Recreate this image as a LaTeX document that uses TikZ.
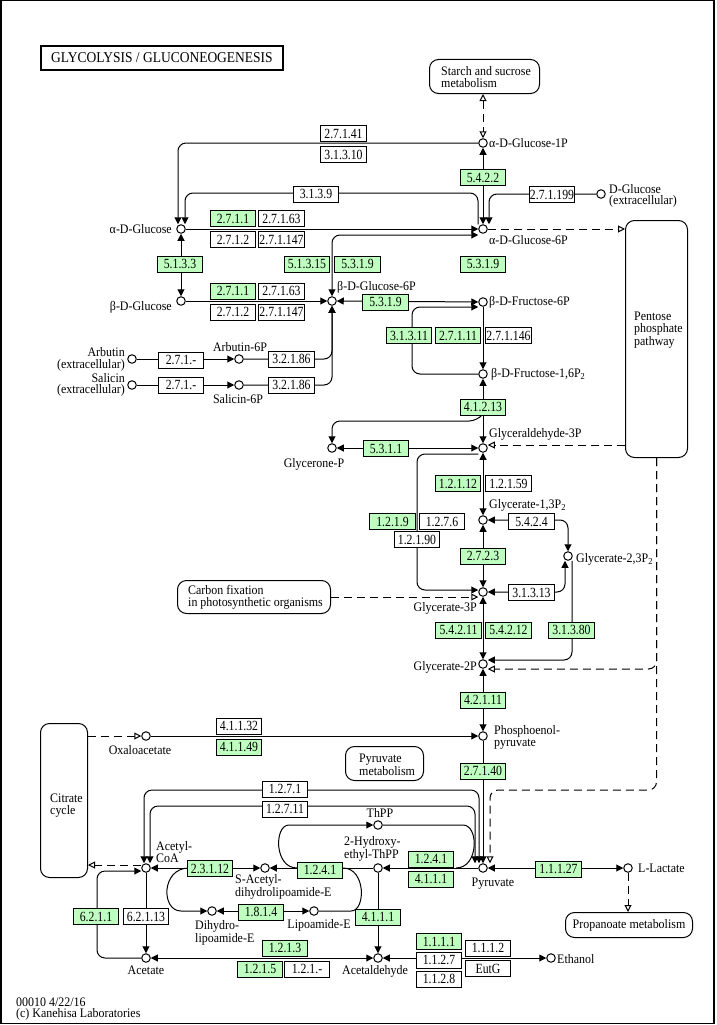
\documentclass[tikz,border=0pt]{standalone}
\usepackage{fontspec}
\setmainfont{Liberation Serif}
\newfontfamily\kfont[FakeStretch=0.92]{Liberation Serif}
\newfontfamily\efont[FakeStretch=0.84]{Liberation Serif}
\newfontfamily\tfont[FakeStretch=0.9]{Liberation Serif}
\usetikzlibrary{arrows.meta,backgrounds,calc}
\definecolor{kgreen}{RGB}{191,255,191}
\tikzset{
  >={Triangle[length=7pt,width=7pt]},
  oa/.tip={Triangle[open,length=7pt,width=7pt]},
  cpd/.style={circle,draw,fill=white,minimum size=8.5pt,inner sep=0pt,line width=1pt},
  enz/.style={draw,fill=white,minimum width=45.5pt,minimum height=16pt,inner sep=0pt,line width=1pt,font=\efont\fontsize{14}{14}\selectfont},
  genz/.style={enz,fill=kgreen},
  lbl/.style={inner sep=0pt,font=\kfont\fontsize{13}{11.5}\selectfont,align=left},
  rlbl/.style={lbl,align=right},
  clbl/.style={lbl,align=center},
  mapbox/.style={draw,rounded corners=9pt,line width=1pt,fill=white,inner sep=0pt},
  conn/.style={line width=1pt,rounded corners=8pt},
  kdash/.style={conn,dash pattern=on 8pt off 5pt},
}
\begin{document}
\begin{tikzpicture}[x=1pt,y=-1pt]
\useasboundingbox (0,0) rectangle (716,1025);
\draw[line width=1.5pt] (0.75,0.75) rectangle (714,1023.5);
% title
\node[draw,line width=2pt,minimum width=242pt,minimum height=24pt,inner sep=0pt,font=\tfont\fontsize{15}{15}\selectfont] (title) at (162,58) {GLYCOLYSIS / GLUCONEOGENESIS};
% map boxes
\node[mapbox,minimum width=110pt,minimum height=34pt] (starch) at (484.5,76.5) {};
\node[lbl,anchor=west] (lstarch) at (441,77) {Starch and sucrose\\metabolism};
\node[mapbox,minimum width=62pt,minimum height=237pt] (ppp) at (656.5,339) {};
\node[lbl,anchor=west] (lppp) at (634,330) {Pentose\\phosphate\\pathway};
\node[mapbox,minimum width=153pt,minimum height=33pt] (cfix) at (254,597) {};
\node[lbl,anchor=west] (lcfix) at (188,597.5) {Carbon fixation\\in photosynthetic organisms};
\node[mapbox,minimum width=47pt,minimum height=154pt] (cit) at (64,800.5) {};
\node[lbl,anchor=west] (lcit) at (50,805.5) {Citrate\\cycle};
\node[mapbox,minimum width=78pt,minimum height=34pt] (pyrmet) at (384.5,763.5) {};
\node[lbl,anchor=west] (lpyrmet) at (359,764.5) {Pyruvate\\metabolism};
\node[mapbox,minimum width=127pt,minimum height=25pt] (prop) at (629,925) {};
\node[lbl] (lprop) at (629,925) {Propanoate metabolism};
% compounds
\node[cpd] (aglc) at (181,229) {};
\node[cpd] (bglc) at (181,301) {};
\node[cpd] (ag1p) at (483,143) {};
\node[cpd] (ag6p) at (483,229) {};
\node[cpd] (dglcex) at (601,194) {};
\node[cpd] (bg6p) at (332,301) {};
\node[cpd] (bf6p) at (483,302) {};
\node[cpd] (f16p) at (483,374) {};
\node[cpd] (gap) at (483,448) {};
\node[cpd] (dhap) at (332,448) {};
\node[cpd] (g13p) at (483,520) {};
\node[cpd] (g23p) at (568,556) {};
\node[cpd] (g3p) at (483,592) {};
\node[cpd] (g2p) at (483,664) {};
\node[cpd] (pep) at (483,736) {};
\node[cpd] (oaa) at (146,736) {};
\node[cpd] (pyr) at (483,868) {};
\node[cpd] (lac) at (628,868) {};
\node[cpd] (accoa) at (146,868) {};
\node[cpd] (acet) at (146,958) {};
\node[cpd] (acald) at (378,958) {};
\node[cpd] (etoh) at (551,958) {};
\node[cpd] (thpp) at (378,825) {};
\node[cpd] (hthpp) at (378,868) {};
\node[cpd] (sacdl) at (265,868) {};
\node[cpd] (dhl) at (212,911) {};
\node[cpd] (lip) at (314,911) {};
\node[cpd] (arb) at (132,359) {};
\node[cpd] (arb6p) at (239,359) {};
\node[cpd] (sal) at (132,385) {};
\node[cpd] (sal6p) at (239,385) {};
% compound labels
\node[lbl,anchor=east] (laglc) at (172,229) {α-D-Glucose};
\node[lbl,anchor=east] (lbglc) at (172,307) {β-D-Glucose};
\node[lbl,anchor=west] (lag1p) at (489,143) {α-D-Glucose-1P};
\node[lbl,anchor=west] (lag6p) at (489,240) {α-D-Glucose-6P};
\node[lbl,anchor=west] (ldglc) at (609,196) {D-Glucose\\(extracellular)};
\node[lbl,anchor=west] (lbg6p) at (337,287) {β-D-Glucose-6P};
\node[lbl,anchor=west] (lbf6p) at (489,302) {β-D-Fructose-6P};
\node[lbl,anchor=west] (lf16p) at (491,374) {β-D-Fructose-1,6P\textsubscript{2}};
\node[lbl,anchor=west] (lgap) at (489,434) {Glyceraldehyde-3P};
\node[clbl] (ldhap) at (314,464) {Glycerone-P};
\node[lbl,anchor=west] (lg13p) at (489,505) {Glycerate-1,3P\textsubscript{2}};
\node[lbl,anchor=west] (lg23p) at (576,559) {Glycerate-2,3P\textsubscript{2}};
\node[lbl,anchor=east] (lg3p) at (477,608) {Glycerate-3P};
\node[lbl,anchor=east] (lg2p) at (477,667) {Glycerate-2P};
\node[lbl,anchor=west] (lpep) at (494,737.5) {Phosphoenol-\\pyruvate};
\node[clbl] (loaa) at (140,750) {Oxaloacetate};
\node[clbl] (lpyr) at (493,884) {Pyruvate};
\node[lbl,anchor=west] (llac) at (638,868) {L-Lactate};
\node[lbl,anchor=west] (laccoa) at (156,852) {Acetyl-\\CoA};
\node[clbl] (lacet) at (146,970) {Acetate};
\node[clbl] (lacald) at (375,971) {Acetaldehyde};
\node[lbl,anchor=west] (letoh) at (557,959) {Ethanol};
\node[clbl] (lthpp) at (380,813) {ThPP};
\node[lbl,anchor=west] (lhthpp) at (344,849) {2-Hydroxy-\\ethyl-ThPP};
\node[lbl,anchor=west] (lsacdl) at (235,887) {S-Acetyl-\\dihydrolipoamide-E};
\node[lbl,anchor=west] (ldhl) at (195,933) {Dihydro-\\lipoamide-E};
\node[clbl] (llip) at (319,925) {Lipoamide-E};
\node[rlbl,anchor=east] (larb) at (125,359.5) {Arbutin\\(extracellular)};
\node[clbl] (larb6p) at (240,347) {Arbutin-6P};
\node[rlbl,anchor=east] (lsal) at (125,385) {Salicin\\(extracellular)};
\node[clbl] (lsal6p) at (238,399) {Salicin-6P};
% enzymes
\node[enz] (e01) at (343.5,133.5) {2.7.1.41};
\node[enz] (e02) at (343.5,154.5) {3.1.3.10};
\node[genz] (e03) at (483,177.5) {5.4.2.2};
\node[enz] (e04) at (316,194) {3.1.3.9};
\node[enz] (e05) at (552,194.5) {2.7.1.199};
\node[genz] (e06) at (233,218.5) {2.7.1.1};
\node[enz] (e07) at (281.5,218.5) {2.7.1.63};
\node[enz] (e08) at (233,239.5) {2.7.1.2};
\node[enz] (e09) at (281.5,239.5) {2.7.1.147};
\node[genz] (e10) at (180,264) {5.1.3.3};
\node[genz] (e11) at (307,264) {5.1.3.15};
\node[genz] (e12) at (357.5,264) {5.3.1.9};
\node[genz] (e13) at (483,264) {5.3.1.9};
\node[genz] (e14) at (233,291) {2.7.1.1};
\node[enz] (e15) at (281.5,291) {2.7.1.63};
\node[enz] (e16) at (233,312) {2.7.1.2};
\node[enz] (e17) at (281.5,312) {2.7.1.147};
\node[genz] (e18) at (385.5,302) {5.3.1.9};
\node[genz] (e19) at (409,335.5) {3.1.3.11};
\node[genz] (e20) at (458,335.5) {2.7.1.11};
\node[enz] (e21) at (508.5,335.5) {2.7.1.146};
\node[enz] (e22) at (181,360) {2.7.1.-};
\node[enz] (e23) at (291.5,359) {3.2.1.86};
\node[enz] (e24) at (181,385) {2.7.1.-};
\node[enz] (e25) at (291.5,385) {3.2.1.86};
\node[genz] (e26) at (483,407) {4.1.2.13};
\node[genz] (e27) at (386,448.5) {5.3.1.1};
\node[genz] (e28) at (458,483.5) {1.2.1.12};
\node[enz] (e29) at (508.5,483.5) {1.2.1.59};
\node[genz] (e30) at (392.5,521.5) {1.2.1.9};
\node[enz] (e31) at (442,521.5) {1.2.7.6};
\node[enz] (e32) at (417,539.5) {1.2.1.90};
\node[enz] (e33) at (531.5,521.5) {5.4.2.4};
\node[genz] (e34) at (483,556) {2.7.2.3};
\node[enz] (e35) at (531.5,592.5) {3.1.3.13};
\node[genz] (e36) at (458.5,630) {5.4.2.11};
\node[genz] (e37) at (508.5,630) {5.4.2.12};
\node[genz] (e38) at (571.5,630) {3.1.3.80};
\node[genz] (e39) at (483,700) {4.2.1.11};
\node[enz] (e40) at (239,726) {4.1.1.32};
\node[genz] (e41) at (239,747) {4.1.1.49};
\node[genz] (e42) at (483,771) {2.7.1.40};
\node[enz] (e43) at (285,789) {1.2.7.1};
\node[enz] (e44) at (285,809) {1.2.7.11};
\node[genz] (e45) at (431,859) {1.2.4.1};
\node[genz] (e46) at (431,879) {4.1.1.1};
\node[genz] (e47) at (320,870) {1.2.4.1};
\node[genz] (e48) at (210,868.5) {2.3.1.12};
\node[genz] (e49) at (558.5,869) {1.1.1.27};
\node[genz] (e50) at (261,912) {1.8.1.4};
\node[genz] (e51) at (96,916.5) {6.2.1.1};
\node[enz] (e52) at (146,916.5) {6.2.1.13};
\node[genz] (e53) at (378,917) {4.1.1.1};
\node[genz] (e54) at (285,948) {1.2.1.3};
\node[genz] (e55) at (260,969) {1.2.1.5};
\node[enz] (e56) at (307,969) {1.2.1.-};
\node[genz] (e57) at (439,941.5) {1.1.1.1};
\node[enz] (e58) at (488,948) {1.1.1.2};
\node[enz] (e59) at (439,960) {1.1.2.7};
\node[enz] (e60) at (488,968.5) {EutG};
\node[enz] (e61) at (439,979) {1.1.2.8};
% footer
\node[lbl,anchor=west] (foot) at (16,1009) {00010 4/22/16\\(c) Kanehisa Laboratories};
% connectors
\begin{scope}[on background layer]
\draw[conn,->] (ag1p) -- (178,143) -- ([xshift=-3pt]aglc.north);
\draw[conn,->] ([xshift=-5pt]ag6p.north) -- (478,193) -- (185,193) -- ([xshift=4pt]aglc.north);
\draw[conn,->] (aglc) -- (ag6p);
\draw[conn,<->] (ag1p) -- (ag6p);
\draw[conn,->] (dglcex) -- (489,194) -- ([xshift=6pt]ag6p.north);
\draw[kdash,-{oa}] (ag6p) -- (ag6p -| ppp.west);
\draw[kdash,{oa}-{oa}] (ag1p |- starch.south) -- (ag1p);
\draw[conn,<->] (aglc) -- (bglc);
\draw[conn,<->] (bg6p) -- (332,235) -- ([yshift=-6pt]ag6p.west);
\draw[conn,->] (bglc) -- (bg6p);
\draw[conn,<->] (bg6p) -- (bf6p);
\draw[conn,->] (arb) -- (arb6p);
\draw[conn,->] (sal) -- (sal6p);
\draw[conn,->] (arb6p) -- (332,359) -- (bg6p);
\draw[conn,->] (sal6p) -- (332,385) -- (bg6p);
\draw[conn,->] (bf6p) -- (f16p);
\draw[conn,->] (f16p) -- (412,374) -- (412,307) -- ([yshift=-5pt]bf6p.west);
\draw[conn,<->] (f16p) -- (gap);
\coordinate (ald) at (483,414);
\draw[conn,->] (ald) -- (477,421) -- (332,421) -- (dhap);
\draw[conn,<->] (dhap) -- (gap);
\draw[kdash,-{oa}] ([yshift=3pt]gap.east -| ppp.west) -- ([yshift=3pt]gap.east);
\draw[conn,<->] (gap) -- (g13p);
\draw[conn,->] ([yshift=-6pt]gap.west) -- (417,454) -- (417,590) -- ([yshift=2pt]g3p.west);
\draw[conn,<->] (g13p) -- (568,520) -- (g23p);
\draw[conn,<->] ([xshift=-3pt]g23p.south) -- (565,592) -- (g3p);
\draw[conn,->] ([xshift=4pt]g23p.south) -- (572,660) -- ([yshift=4pt]g2p.east);
\draw[conn,<->] (g13p) -- (g3p);
\draw[kdash,-{oa}] (cfix.east) -- (cfix.east -| g3p.west);
\draw[conn,<->] (g3p) -- (g2p);
\draw[kdash,-{oa}] (ppp.south) -- (656.5,669) -- ([yshift=-5pt]g2p.east);
\draw[kdash,-{oa}] (ppp.south) -- (656.5,790) -- (490,790) -- ([xshift=7pt]pyr.north);
\draw[conn,<->] (g2p) -- (pep);
\draw[conn,->] (oaa) -- (pep);
\draw[kdash,-{oa}] (cit.east |- oaa) -- (oaa);
\draw[conn,->] (pep) -- (pyr);
\draw[conn,<->] ([xshift=-2pt]accoa.north) -- (144,790) -- (479,790) -- ([xshift=-4pt]pyr.north);
\draw[conn,<->] ([xshift=4pt]accoa.north) -- (150,806) -- (475,806) -- ([xshift=-8pt]pyr.north);
\draw[conn,<->] (accoa) -- (sacdl);
\draw[conn,->] (189,868) .. controls (161,868) and (161,911) .. (189,911) -- (dhl);
\draw[conn,->] (hthpp) -- (sacdl);
\draw[conn,->] (297,868) .. controls (274,868) and (274,825) .. (297,825) -- (thpp);
\draw[conn] (thpp) -- (455,825) .. controls (479,825) and (479,868) .. (456,868);
\draw[conn] (343,868) .. controls (366,868) and (366,911) .. (343,911) -- (lip);
\draw[conn,<->] (dhl) -- (lip);
\draw[conn,->] (pyr) -- (hthpp);
\draw[conn,->] (hthpp) -- (acald);
\draw[conn,->] (accoa) -- (acet);
\draw[conn,->] (acet) -- (97,958) -- (97,871) -- ([yshift=-3pt]accoa.west);
\draw[conn,<->] (acald) -- (acet);
\draw[conn,<->] (acald) -- (etoh);
\draw[conn,<->] (pyr) -- (lac);
\draw[kdash,-{oa}] (lac) -- (lac |- prop.north);
\draw[kdash,-{oa}] ([yshift=3pt]accoa.west) -- ([yshift=3pt]accoa.west -| cit.east);
\end{scope}
\end{tikzpicture}
\end{document}
